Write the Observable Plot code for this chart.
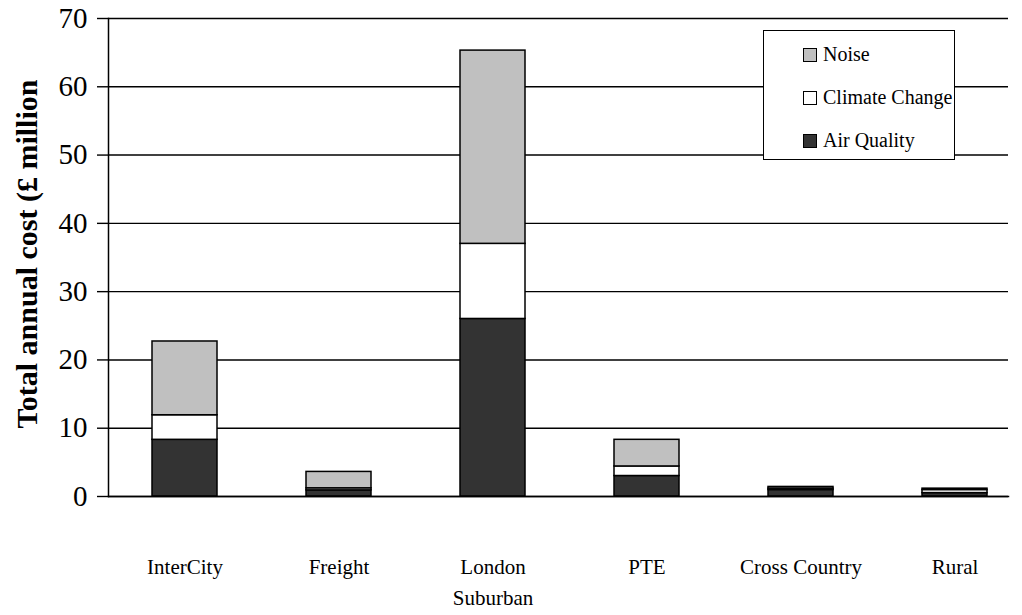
<!DOCTYPE html>
<html>
<head>
<meta charset="utf-8">
<script src="https://cdn.jsdelivr.net/npm/d3@7"></script>
<script src="https://cdn.jsdelivr.net/npm/@observablehq/plot@0.6"></script>
<style>
  body { margin: 0; background: #fff; }
  #wrap { position: relative; width: 1022px; height: 615px; overflow: hidden; font-family: "Liberation Serif", "Times New Roman", serif; }
  #ytitle { position: absolute; left: 27px; top: 254px; transform: translate(-50%, -50%) rotate(-90deg); white-space: nowrap; font-size: 30px; font-weight: bold; color: #000; }
  #legend { position: absolute; left: 763px; top: 30px; width: 190px; height: 128px; border: 1.5px solid #000; background: #fff; }
  .item { position: absolute; left: 39px; display: flex; align-items: center; font-size: 20px; color: #000; white-space: nowrap; }
  .sw { width: 12px; height: 12px; border: 1.3px solid #000; margin-right: 6px; }
</style>
</head>
<body>
<div id="wrap"></div>
<script>
const categories = ["InterCity", "Freight", "London Suburban", "PTE", "Cross Country", "Rural"];
const series = ["Air Quality", "Climate Change", "Noise"];
const airQuality    = [8.3, 0.9, 26.0, 3.0, 0.95, 0.5];
const climateChange = [3.6, 0.3, 11.0, 1.4, 0.2, 0.45];
const noise         = [10.8, 2.4, 28.3, 3.9, 0.25, 0.2];
const colors = ["#333333", "#ffffff", "#c0c0c0"];
const yTicks = [0, 10, 20, 30, 40, 50, 60, 70];
const yTitle = "Total annual cost (£ million";
const legendOrder = ["Noise", "Climate Change", "Air Quality"];

const values = [airQuality, climateChange, noise];
const rows = [];
categories.forEach((c, i) => {
  series.forEach((s, j) => rows.push({category: c, series: s, value: values[j][i]}));
});

const serif = "Liberation Serif, Times New Roman, serif";
const chart = Plot.plot({
  width: 1022,
  height: 615,
  marginLeft: 108,
  marginRight: 14,
  marginTop: 18,
  marginBottom: 119,
  style: {fontFamily: serif, background: "#fff", color: "#000"},
  x: {domain: categories, range: [107, 1031], paddingInner: 0.58, paddingOuter: 0.29, axis: null},
  y: {domain: [0, 70], axis: null},
  color: {domain: series, range: colors},
  marks: [
    Plot.gridY(yTicks, {stroke: "#000", strokeOpacity: 1, strokeWidth: 1.4}),
    Plot.barY(rows, {x: "category", y: "value", fill: "series", stroke: "#000", strokeWidth: 1.5}),
    Plot.axisY(yTicks, {tickSize: 11, tickPadding: 10, fontSize: 29, fontFamily: serif, stroke: "#000", strokeWidth: 1.4, label: null}),
    Plot.axisX(categories, {tickSize: 0, tickPadding: 55, fontSize: 21, fontFamily: serif, lineHeight: 1.5,
      tickFormat: d => d.replace(" Suburban", "\nSuburban"), label: null}),
    Plot.frame({anchor: "left", stroke: "#000", strokeWidth: 1.5}),
    Plot.frame({anchor: "bottom", stroke: "#000", strokeWidth: 1.5})
  ]
});

const wrap = document.getElementById("wrap");
wrap.appendChild(chart);

const t = document.createElement("div");
t.id = "ytitle";
t.textContent = yTitle;
wrap.appendChild(t);

const lg = document.createElement("div");
lg.id = "legend";
const rowTops = [12, 55, 98];
legendOrder.forEach((s, k) => {
  const it = document.createElement("div");
  it.className = "item";
  it.style.top = rowTops[k] + "px";
  const sw = document.createElement("div");
  sw.className = "sw";
  sw.style.background = colors[series.indexOf(s)];
  const tx = document.createElement("span");
  tx.textContent = s;
  it.appendChild(sw);
  it.appendChild(tx);
  lg.appendChild(it);
});
wrap.appendChild(lg);
</script>
</body>
</html>
